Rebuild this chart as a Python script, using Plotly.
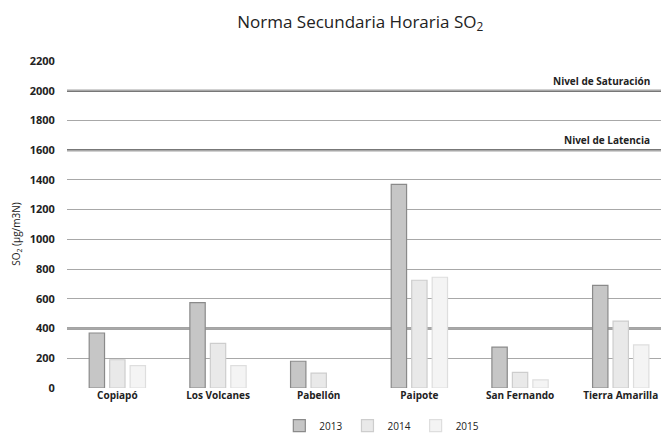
import plotly.graph_objects as go

categories = ["Copiapó", "Los Volcanes", "Pabellón", "Paipote", "San Fernando", "Tierra Amarilla"]
years = ["2013", "2014", "2015"]
values_2013 = [370, 575, 180, 1370, 275, 690]
values_2014 = [190, 300, 100, 725, 105, 450]
values_2015 = [150, 150, None, 745, 55, 290]
level_lines = [400, 1600, 2000]
level_labels = {2000: "Nivel de Saturación", 1600: "Nivel de Latencia"}

series = [values_2013, values_2014, values_2015]
fills = ["#c6c6c6", "#e9e9e9", "#f4f4f4"]
borders = ["#8a8a8a", "#cdcdcd", "#dedede"]

FONT = "Open Sans"
fig = go.Figure()
for yr, vals, fc, bc in zip(years, series, fills, borders):
    fig.add_trace(go.Bar(
        x=categories, y=vals, name=yr,
        marker=dict(color=fc, line=dict(color=bc, width=1.2)),
    ))

for lv in level_lines:
    fig.add_shape(type="line", xref="paper", x0=0, x1=1, yref="y", y0=lv, y1=lv,
                  line=dict(color="#4a4a4a", width=2), layer="below")
for lv, txt in level_labels.items():
    fig.add_annotation(xref="paper", x=0.985, y=lv, yref="y", text=f"<b>{txt}</b>",
                       showarrow=False, xanchor="right", yanchor="bottom", yshift=1,
                       font=dict(family=FONT, size=10, color="#222222"))

fig.add_annotation(xref="paper", yref="paper", x=-0.085, y=0.47,
                   text="SO<sub>2</sub> (µg/m3N)", textangle=-90, showarrow=False,
                   xanchor="center", yanchor="middle",
                   font=dict(family=FONT, size=10, color="#222222"))

fig.update_layout(
    width=661, height=438,
    margin=dict(l=67, r=0, t=61, b=50, autoexpand=False),
    paper_bgcolor="white", plot_bgcolor="white",
    title=dict(text="Norma Secundaria Horaria SO<sub>2</sub>", x=0.545, xanchor="center",
               y=0.95, yanchor="middle",
               font=dict(family=FONT, size=17, color="#222222")),
    barmode="group", bargap=0.39, bargroupgap=0.25,
    font=dict(family=FONT, size=10, color="#222222"),
    showlegend=True,
    legend=dict(orientation="h", x=0.53, xanchor="center", y=-0.115, yanchor="middle",
                font=dict(family=FONT, size=10, color="#222222"),
                itemwidth=30, traceorder="normal"),
    xaxis=dict(range=[-0.5, 5.4], showgrid=False, showline=False, ticks="",
               automargin=False,
               tickfont=dict(family=FONT, size=10, color="#222222"),
               tickprefix="<b>", ticksuffix="</b>"),
    yaxis=dict(range=[0, 2200], dtick=200, showgrid=True, gridcolor="#a8a8a8", gridwidth=1,
               zeroline=False, ticks="outside", ticklen=9, tickcolor="white",
               automargin=False,
               tickprefix="<b>", ticksuffix="</b>",
               tickfont=dict(family=FONT, size=11, color="#222222")),
)

fig.write_html("out.html", config={"displayModeBar": False},
               post_script="document.body.style.margin='0';")
